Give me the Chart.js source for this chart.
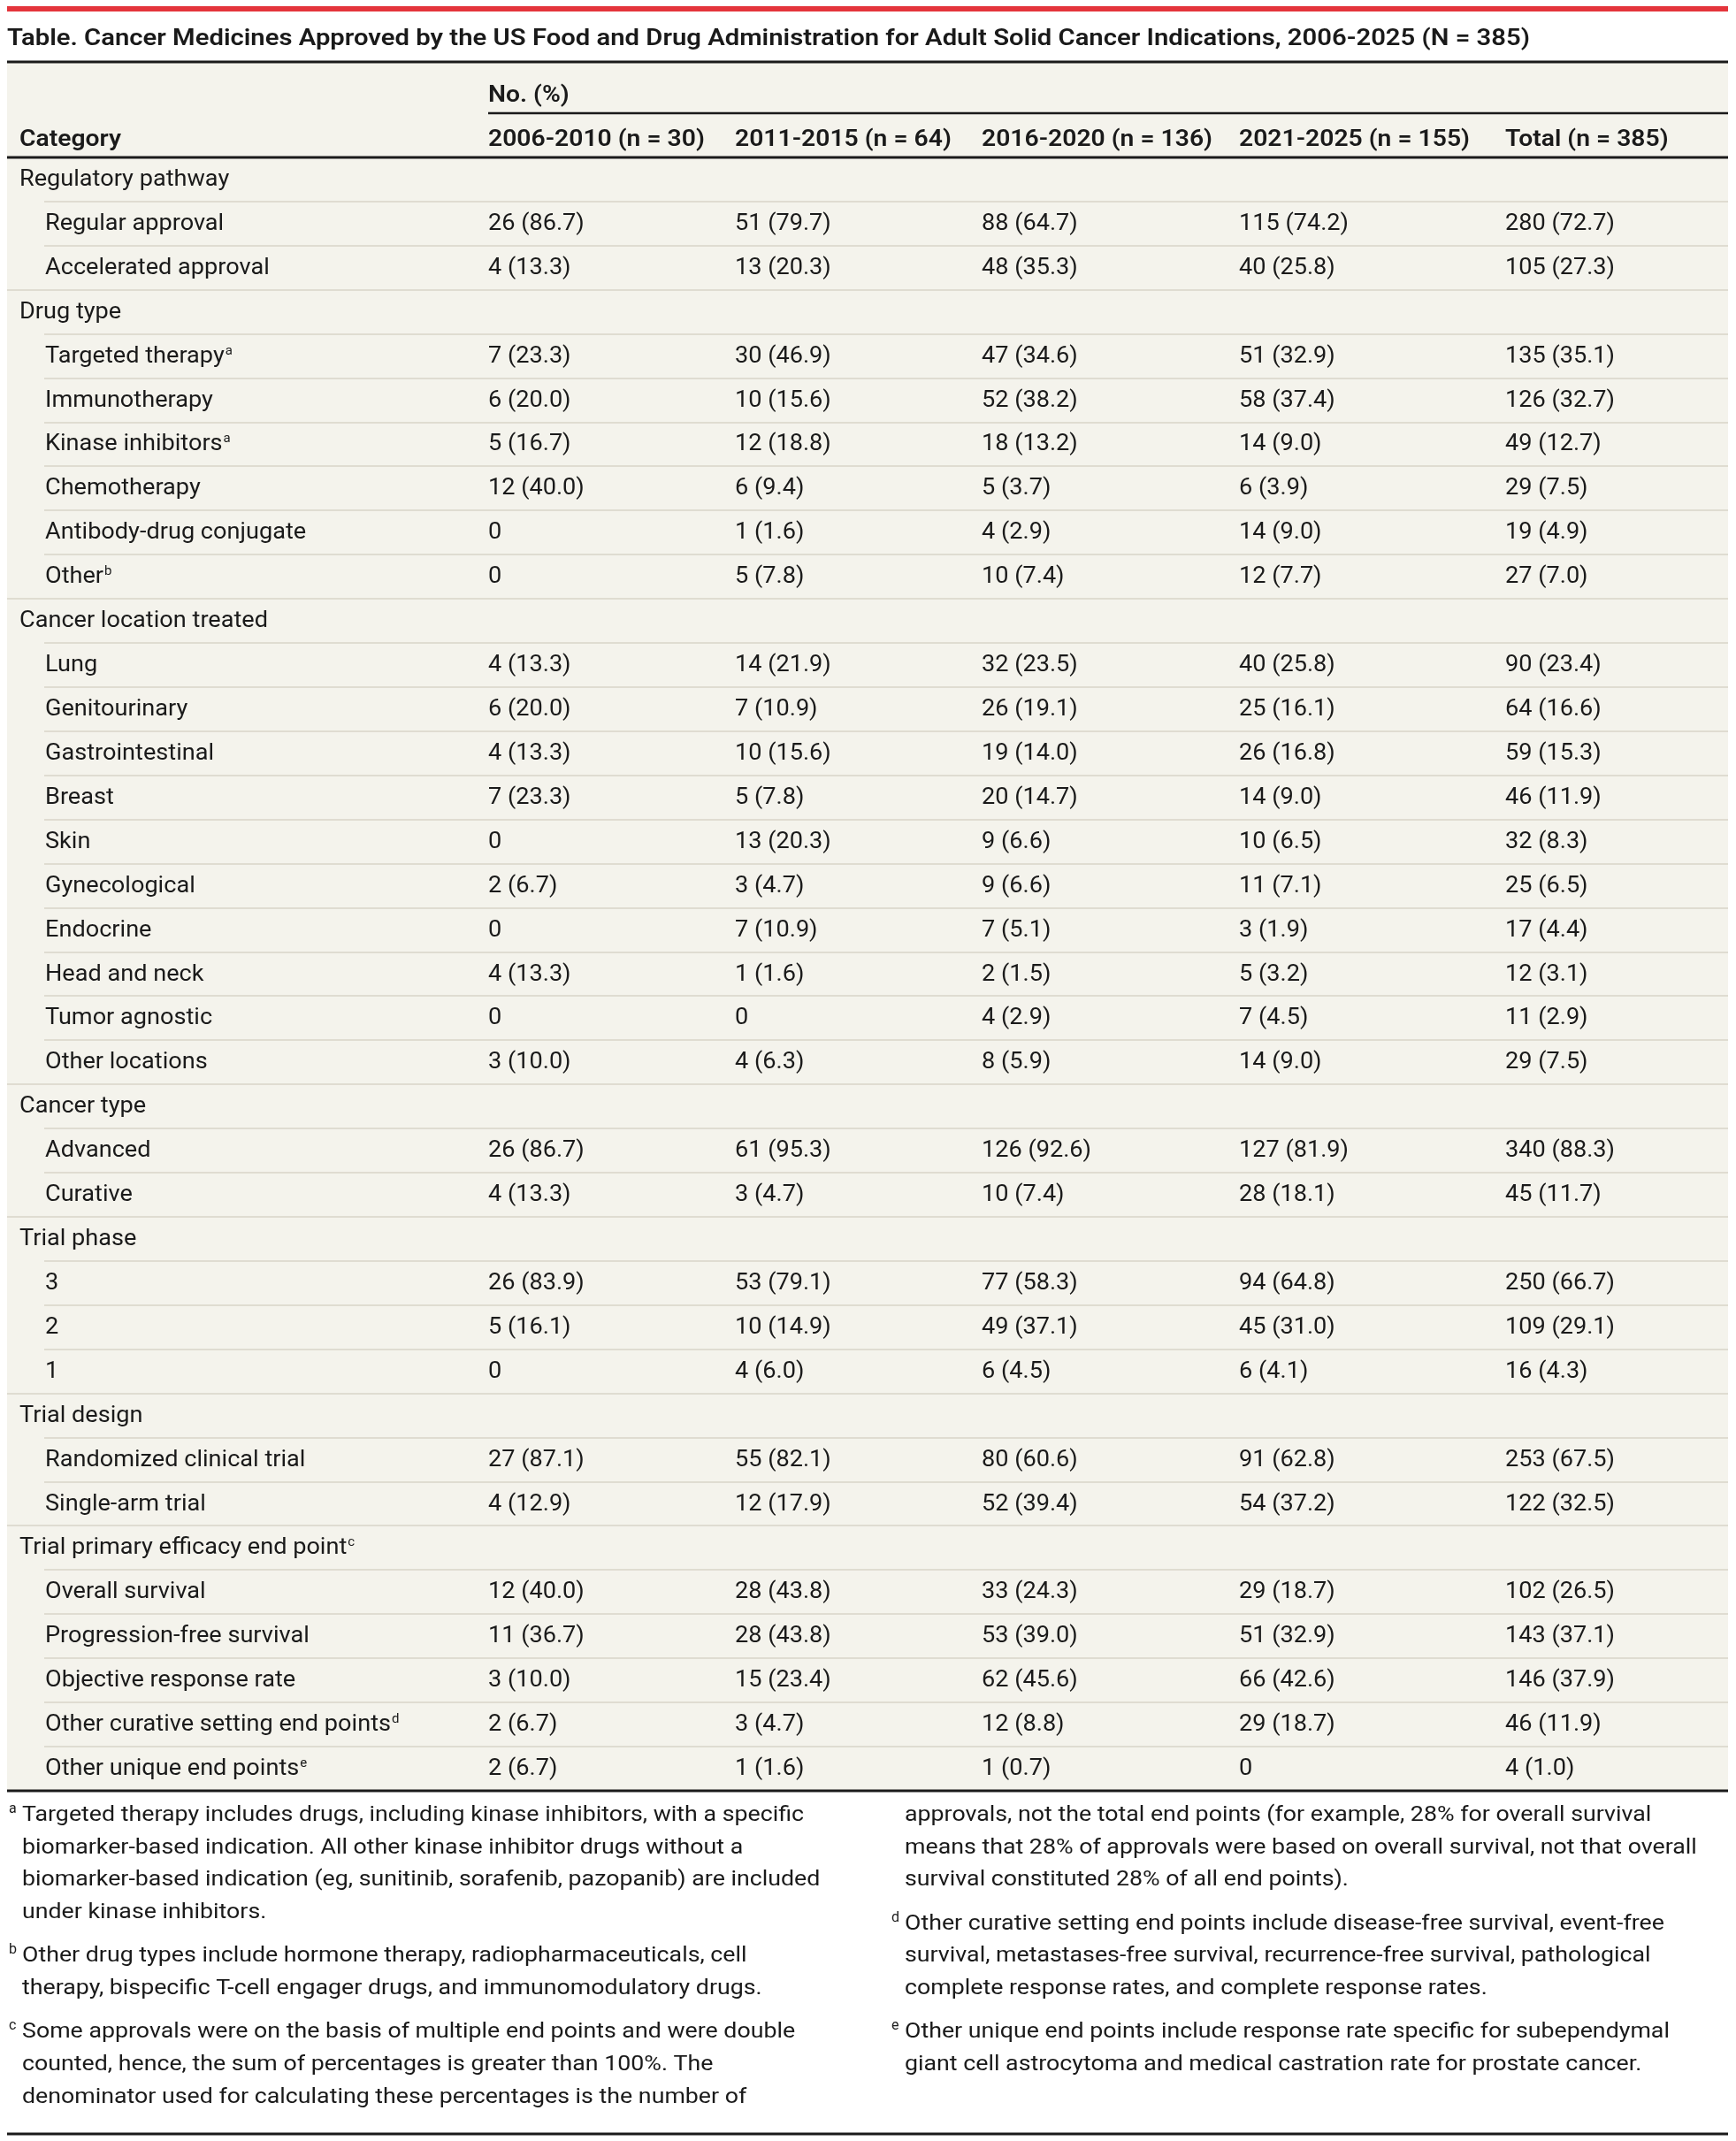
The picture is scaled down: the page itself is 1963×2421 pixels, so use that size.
<!DOCTYPE html>
<html>
<head>
<meta charset="utf-8">
<title>Cancer Medicines Approved by the FDA, 2006-2025</title>
<script src="https://cdn.jsdelivr.net/npm/chart.js@4.4.1/dist/chart.umd.min.js"></script>
<style>
  html, body { margin: 0; padding: 0; background: #fff; }
  #table-chart { display: block; }
</style>
</head>
<body>
<canvas id="table-chart" width="1963" height="2421"></canvas>
<script>
// ─── Data ────────────────────────────────────────
const TITLE = 'Table. Cancer Medicines Approved by the US Food and Drug Administration for Adult Solid Cancer Indications, 2006-2025 (N = 385)';
const SPANNER = 'No. (%)';
const FIRST_HEAD = 'Category';
const PERIODS = ['2006-2010 (n = 30)', '2011-2015 (n = 64)', '2016-2020 (n = 136)', '2021-2025 (n = 155)', 'Total (n = 385)'];

const ROW_LABELS = [
  'Regulatory pathway', 'Regular approval', 'Accelerated approval',
  'Drug type', 'Targeted therapy', 'Immunotherapy', 'Kinase inhibitors', 'Chemotherapy', 'Antibody-drug conjugate', 'Other',
  'Cancer location treated', 'Lung', 'Genitourinary', 'Gastrointestinal', 'Breast', 'Skin', 'Gynecological', 'Endocrine', 'Head and neck', 'Tumor agnostic', 'Other locations',
  'Cancer type', 'Advanced', 'Curative',
  'Trial phase', '3', '2', '1',
  'Trial design', 'Randomized clinical trial', 'Single-arm trial',
  'Trial primary efficacy end point', 'Overall survival', 'Progression-free survival', 'Objective response rate', 'Other curative setting end points', 'Other unique end points',
];
const ROW_NOTES = {
  'Targeted therapy': 'a', 'Kinase inhibitors': 'a', 'Other': 'b',
  'Trial primary efficacy end point': 'c', 'Other curative setting end points': 'd', 'Other unique end points': 'e',
};

// counts (null = group heading row) and percentages (null = not shown)
const N_2006 = [null, 26, 4, null, 7, 6, 5, 12, 0, 0, null, 4, 6, 4, 7, 0, 2, 0, 4, 0, 3, null, 26, 4, null, 26, 5, 0, null, 27, 4, null, 12, 11, 3, 2, 2];
const P_2006 = [null, 86.7, 13.3, null, 23.3, 20.0, 16.7, 40.0, null, null, null, 13.3, 20.0, 13.3, 23.3, null, 6.7, null, 13.3, null, 10.0, null, 86.7, 13.3, null, 83.9, 16.1, null, null, 87.1, 12.9, null, 40.0, 36.7, 10.0, 6.7, 6.7];
const N_2011 = [null, 51, 13, null, 30, 10, 12, 6, 1, 5, null, 14, 7, 10, 5, 13, 3, 7, 1, 0, 4, null, 61, 3, null, 53, 10, 4, null, 55, 12, null, 28, 28, 15, 3, 1];
const P_2011 = [null, 79.7, 20.3, null, 46.9, 15.6, 18.8, 9.4, 1.6, 7.8, null, 21.9, 10.9, 15.6, 7.8, 20.3, 4.7, 10.9, 1.6, null, 6.3, null, 95.3, 4.7, null, 79.1, 14.9, 6.0, null, 82.1, 17.9, null, 43.8, 43.8, 23.4, 4.7, 1.6];
const N_2016 = [null, 88, 48, null, 47, 52, 18, 5, 4, 10, null, 32, 26, 19, 20, 9, 9, 7, 2, 4, 8, null, 126, 10, null, 77, 49, 6, null, 80, 52, null, 33, 53, 62, 12, 1];
const P_2016 = [null, 64.7, 35.3, null, 34.6, 38.2, 13.2, 3.7, 2.9, 7.4, null, 23.5, 19.1, 14.0, 14.7, 6.6, 6.6, 5.1, 1.5, 2.9, 5.9, null, 92.6, 7.4, null, 58.3, 37.1, 4.5, null, 60.6, 39.4, null, 24.3, 39.0, 45.6, 8.8, 0.7];
const N_2021 = [null, 115, 40, null, 51, 58, 14, 6, 14, 12, null, 40, 25, 26, 14, 10, 11, 3, 5, 7, 14, null, 127, 28, null, 94, 45, 6, null, 91, 54, null, 29, 51, 66, 29, 0];
const P_2021 = [null, 74.2, 25.8, null, 32.9, 37.4, 9.0, 3.9, 9.0, 7.7, null, 25.8, 16.1, 16.8, 9.0, 6.5, 7.1, 1.9, 3.2, 4.5, 9.0, null, 81.9, 18.1, null, 64.8, 31.0, 4.1, null, 62.8, 37.2, null, 18.7, 32.9, 42.6, 18.7, null];
const N_TOTAL = [null, 280, 105, null, 135, 126, 49, 29, 19, 27, null, 90, 64, 59, 46, 32, 25, 17, 12, 11, 29, null, 340, 45, null, 250, 109, 16, null, 253, 122, null, 102, 143, 146, 46, 4];
const P_TOTAL = [null, 72.7, 27.3, null, 35.1, 32.7, 12.7, 7.5, 4.9, 7.0, null, 23.4, 16.6, 15.3, 11.9, 8.3, 6.5, 4.4, 3.1, 2.9, 7.5, null, 88.3, 11.7, null, 66.7, 29.1, 4.3, null, 67.5, 32.5, null, 26.5, 37.1, 37.9, 11.9, 1.0];

const COUNTS = [N_2006, N_2011, N_2016, N_2021, N_TOTAL];
const PCTS = [P_2006, P_2011, P_2016, P_2021, P_TOTAL];

const NOTES_LEFT = [
  ['a', ['Targeted therapy includes drugs, including kinase inhibitors, with a specific',
         'biomarker-based indication. All other kinase inhibitor drugs without a',
         'biomarker-based indication (eg, sunitinib, sorafenib, pazopanib) are included',
         'under kinase inhibitors.']],
  ['b', ['Other drug types include hormone therapy, radiopharmaceuticals, cell',
         'therapy, bispecific T-cell engager drugs, and immunomodulatory drugs.']],
  ['c', ['Some approvals were on the basis of multiple end points and were double',
         'counted, hence, the sum of percentages is greater than 100%. The',
         'denominator used for calculating these percentages is the number of']],
];
const NOTES_RIGHT = [
  ['', ['approvals, not the total end points (for example, 28% for overall survival',
        'means that 28% of approvals were based on overall survival, not that overall',
        'survival constituted 28% of all end points).']],
  ['d', ['Other curative setting end points include disease-free survival, event-free',
         'survival, metastases-free survival, recurrence-free survival, pathological',
         'complete response rates, and complete response rates.']],
  ['e', ['Other unique end points include response rate specific for subependymal',
         'giant cell astrocytoma and medical castration rate for prostate cancer.']],
];

// ─── Layout / style ──────────────────────────────
const FONT = 'Roboto, "Liberation Sans", sans-serif';
const INK = '#1a1a1a';
const PAPER = '#f4f3ec';
const HAIR = '#d8d4c8';
const RED = '#e4353c';
const W = 1963, H = 2421;
const TABLE_L = 8, TABLE_R = 1954, TABLE_W = TABLE_R - TABLE_L;
const COL_X = [14, 544, 823, 1102, 1393, 1694];   // column starts, table units
const INDENT = 29;
const SUB_RULE_X = 42;

const isGroup = (i) => N_TOTAL[i] === null;
const cellText = (n, p) => (n === null ? '' : p === null ? String(n) : `${n} (${p.toFixed(1)})`);

// ─── Text helpers ────────────────────────────────
function fitScale(ctx, font, sample, target) {
  ctx.font = font;
  return target / ctx.measureText(sample).width;
}

function drawText(ctx, text, x, y, font, sx) {
  ctx.save();
  ctx.font = font;
  ctx.translate(x, y);
  ctx.scale(sx, 1);
  ctx.fillText(text, 0, 0);
  const w = ctx.measureText(text).width * sx;
  ctx.restore();
  return w;
}

function hRule(ctx, x1, x2, y, lw, color) {
  ctx.save();
  ctx.strokeStyle = color;
  ctx.lineWidth = lw;
  ctx.beginPath();
  ctx.moveTo(x1, y);
  ctx.lineTo(x2, y);
  ctx.stroke();
  ctx.restore();
}

const F_BODY = `400 25px ${FONT}`;
const F_HEAD = `600 25px ${FONT}`;
const F_TITLE = `600 25px ${FONT}`;
const F_NOTE = `400 23px ${FONT}`;
const F_SUP = `400 15px ${FONT}`;
let SX = null;

function calibrate(ctx) {
  if (SX) return SX;
  SX = {
    body: fitScale(ctx, F_BODY, 'Other curative setting end points', 391),
    head: fitScale(ctx, F_HEAD, '2016-2020 (n = 136)', 261),
    title: fitScale(ctx, F_TITLE, TITLE, 1722),
    note: fitScale(ctx, F_NOTE, NOTES_LEFT[0][1][0], 884),
  };
  return SX;
}

// ─── Table plugin ────────────────────────────────
const tablePlugin = {
  id: 'tablePlugin',
  beforeDraw(chart) {
    const { ctx, chartArea, scales } = chart;
    const sx = calibrate(ctx);
    ctx.save();
    ctx.fillStyle = '#fff';
    ctx.fillRect(0, 0, W, H);
    ctx.fillStyle = RED;
    ctx.fillRect(TABLE_L, 7, TABLE_W, 6);

    ctx.fillStyle = INK;
    ctx.textBaseline = 'alphabetic';
    drawText(ctx, TITLE, TABLE_L, 51, F_TITLE, sx.title);

    ctx.fillStyle = PAPER;
    ctx.fillRect(TABLE_L, 70, TABLE_W, chartArea.bottom - 70);
    hRule(ctx, TABLE_L, TABLE_R, 70, 3, INK);

    ctx.fillStyle = INK;
    const colPx = COL_X.map((c) => scales.x.getPixelForValue(c));
    drawText(ctx, SPANNER, colPx[1], 115, F_HEAD, sx.head);
    hRule(ctx, colPx[1], TABLE_R, 128, 2.5, INK);
    drawText(ctx, FIRST_HEAD, colPx[0], 165, F_HEAD, sx.head);
    PERIODS.forEach((p, c) => drawText(ctx, p, colPx[c + 1], 165, F_HEAD, sx.head));
    hRule(ctx, TABLE_L, TABLE_R, chartArea.top, 3, INK);
    ctx.restore();
  },
  beforeDatasetsDraw(chart) {
    const { ctx, scales } = chart;
    const y = scales.y, x = scales.x;
    for (let i = 0; i < ROW_LABELS.length - 1; i++) {
      const py = Math.round((y.getPixelForValue(i) + y.getPixelForValue(i + 1)) / 2);
      const x1 = x.getPixelForValue(isGroup(i + 1) ? 0 : SUB_RULE_X);
      hRule(ctx, x1, TABLE_R, py, 1.5, HAIR);
    }
  },
  afterDatasetsDraw(chart) {
    const { ctx } = chart;
    const sx = calibrate(ctx);
    ctx.save();
    ctx.fillStyle = INK;
    ctx.textBaseline = 'alphabetic';
    chart.data.datasets.forEach((ds, d) => {
      const meta = chart.getDatasetMeta(d);
      meta.data.forEach((pt, j) => {
        const raw = ds.data[j];
        if (!raw.text) return;
        const base = pt.y + 7;
        const w = drawText(ctx, raw.text, pt.x, base, F_BODY, sx.body);
        if (raw.note) drawText(ctx, raw.note, pt.x + w + 1, base - 9, F_SUP, 1);
      });
    });
    ctx.restore();
  },
  afterDraw(chart) {
    const { ctx, chartArea } = chart;
    const sx = calibrate(ctx);
    hRule(ctx, TABLE_L, TABLE_R, chartArea.bottom, 3, INK);
    ctx.save();
    ctx.fillStyle = INK;
    ctx.textBaseline = 'alphabetic';
    const drawNotes = (notes, supX, textX) => {
      let base = 2059;
      notes.forEach(([mark, lines]) => {
        if (mark) drawText(ctx, mark, supX, base - 9, `400 16px ${FONT}`, 1);
        lines.forEach((line) => {
          drawText(ctx, line, textX, base, F_NOTE, sx.note);
          base += 36.7;
        });
        base += 12.5;
      });
    };
    drawNotes(NOTES_LEFT, 10, 25);
    drawNotes(NOTES_RIGHT, 1008, 1023);
    ctx.restore();
    hRule(ctx, TABLE_L, TABLE_R, 2413, 3, INK);
  },
};

// ─── Build datasets from the arrays ──────────────
const labelPoints = ROW_LABELS.map((label, i) => ({
  x: COL_X[0] + (isGroup(i) ? 0 : INDENT), y: i, text: label, note: ROW_NOTES[label] || '',
}));
const periodSets = PERIODS.map((period, c) => ({
  label: period,
  data: ROW_LABELS.map((_, i) => ({ x: COL_X[c + 1], y: i, text: cellText(COUNTS[c][i], PCTS[c][i]) })),
  pointRadius: 0,
  pointHoverRadius: 0,
}));

new Chart(document.getElementById('table-chart'), {
  type: 'scatter',
  data: {
    datasets: [{ label: FIRST_HEAD, data: labelPoints, pointRadius: 0, pointHoverRadius: 0 }, ...periodSets],
  },
  options: {
    responsive: false,
    animation: false,
    devicePixelRatio: 1,
    events: [],
    layout: { padding: { top: 178, bottom: H - 2025, left: TABLE_L, right: W - TABLE_R } },
    plugins: { legend: { display: false }, tooltip: { enabled: false } },
    scales: {
      x: { type: 'linear', min: 0, max: TABLE_W, display: false },
      y: { type: 'category', labels: ROW_LABELS, offset: true, display: false },
    },
  },
  plugins: [tablePlugin],
});
</script>
</body>
</html>
